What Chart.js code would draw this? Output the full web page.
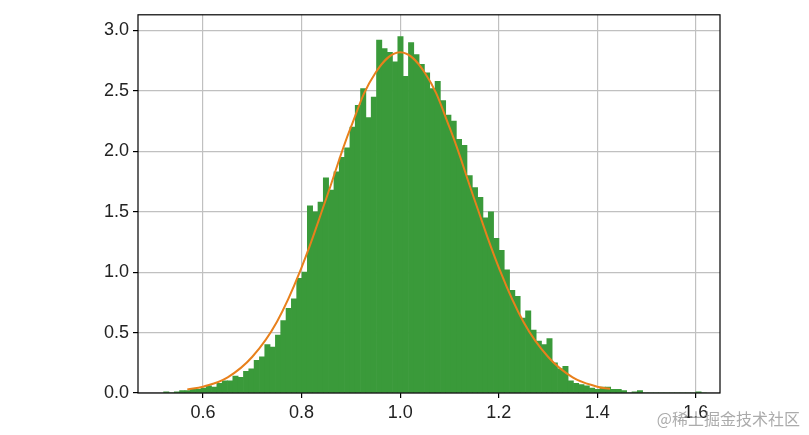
<!DOCTYPE html>
<html>
<head>
<meta charset="utf-8">
<script src="https://cdn.jsdelivr.net/npm/chart.js@4"></script>
<style>
  body { margin: 0; background: #fff; }
  #wrap { width: 809px; height: 435px; }
</style>
</head>
<body>
<div id="wrap"><canvas id="c" width="809" height="435"></canvas></div>
<script>
// histogram bins: start 0.52, width 0.0108, 100 bins
const binStart = 0.52;
const binWidth = 0.0108;
const binHeights = [
  0.01, 0.00, 0.01, 0.02, 0.02, 0.03, 0.03,
  0.04, 0.06, 0.05, 0.08, 0.10, 0.10, 0.14, 0.13, 0.18,
  0.20, 0.27, 0.30, 0.40, 0.38, 0.48, 0.60, 0.70, 0.78, 0.95,
  1.00, 1.55, 1.50, 1.58, 1.78, 1.68, 1.83, 1.95, 2.03,
  2.20, 2.38, 2.52, 2.28, 2.45, 2.92, 2.85, 2.82, 2.74, 2.95,
  2.62, 2.90, 2.80, 2.72, 2.65, 2.52, 2.58, 2.42, 2.30,
  2.25, 2.10, 2.05, 1.80, 1.70, 1.62, 1.45, 1.50, 1.28, 1.18,
  1.02, 0.85, 0.80, 0.62, 0.68, 0.52, 0.43, 0.40, 0.45,
  0.25, 0.20, 0.22, 0.10, 0.08, 0.07, 0.06, 0.04, 0.03,
  0.05, 0.05, 0.03, 0.03, 0.02, 0.00, 0.01, 0.02, 0.00, 0.00,
  0.00, 0.00, 0.00, 0.00, 0.00, 0.00, 0.00, 0.00, 0.01, 0.00
];
// fitted normal curve, sampled
const curveX = [0.568, 0.6, 0.65, 0.7, 0.75, 0.8, 0.85, 0.9, 0.95, 1.0, 1.05, 1.1, 1.15, 1.2, 1.25, 1.3, 1.35, 1.4, 1.426];
const curveY = [0.030, 0.052, 0.13, 0.30, 0.59, 1.04, 1.61, 2.20, 2.65, 2.82, 2.65, 2.20, 1.61, 1.04, 0.59, 0.30, 0.13, 0.052, 0.035];
const xTicks = [0.6, 0.8, 1.0, 1.2, 1.4, 1.6];
const yTicks = [0.0, 0.5, 1.0, 1.5, 2.0, 2.5, 3.0];

const bars = binHeights.map((h, i) => ({ x: binStart + binWidth * (i + 0.5), y: h }));
const curve = curveX.map((x, i) => ({ x: x, y: curveY[i] }));

const watermark = {
  id: 'watermark',
  afterDraw(chart) {
    const ctx = chart.ctx;
    ctx.save();
    ctx.font = '16px "Noto Sans CJK SC"';
    ctx.fillStyle = 'rgba(150,150,150,0.8)';
    ctx.textAlign = 'right';
    ctx.fillText('@稀土掘金技术社区', 800, 425);
    ctx.restore();
  }
};
const frame = {
  id: 'frame',
  afterDraw(chart) {
    const a = chart.chartArea, ctx = chart.ctx;
    ctx.save();
    ctx.strokeStyle = '#000';
    ctx.lineWidth = 1.2;
    ctx.strokeRect(a.left, a.top, a.right - a.left, a.bottom - a.top);
    ctx.restore();
  }
};

new Chart(document.getElementById('c'), {
  type: 'bar',
  data: {
    datasets: [
      {
        type: 'line', data: curve, borderColor: '#e8801c', borderWidth: 2,
        pointRadius: 0, tension: 0.4, order: 0
      },
      {
        data: bars, backgroundColor: '#3a9a3a', borderWidth: 0,
        barPercentage: 1.0, categoryPercentage: 1.0, grouped: false, order: 1
      }
    ]
  },
  plugins: [watermark, frame],
  options: {
    responsive: false,
    animation: false,
    layout: { padding: { left: 0, right: 89, top: 14, bottom: 0 } },
    plugins: { legend: { display: false }, tooltip: { enabled: false } },
    scales: {
      x: {
        type: 'linear', min: 0.468, max: 1.649, offset: false,
        afterBuildTicks: s => { s.ticks = xTicks.map(v => ({ value: v })); },
        afterFit: s => { s.height = 42; },
        grid: { offset: false, color: '#c0c0c0', lineWidth: 1.2, tickLength: 5, tickColor: '#000' },
        border: { display: false },
        ticks: { color: '#222', font: { size: 18, family: 'Liberation Sans' }, padding: 4,
                 callback: v => v.toFixed(1) }
      },
      y: {
        min: 0, max: 3.13,
        afterBuildTicks: s => { s.ticks = yTicks.map(v => ({ value: v })); },
        afterFit: s => { s.width = 138; },
        grid: { color: '#c0c0c0', lineWidth: 1.2, tickLength: 5, tickColor: '#000' },
        border: { display: false },
        ticks: { color: '#222', font: { size: 18, family: 'Liberation Sans' }, padding: 4,
                 callback: v => v.toFixed(1) }
      }
    }
  }
});
</script>
</body>
</html>
